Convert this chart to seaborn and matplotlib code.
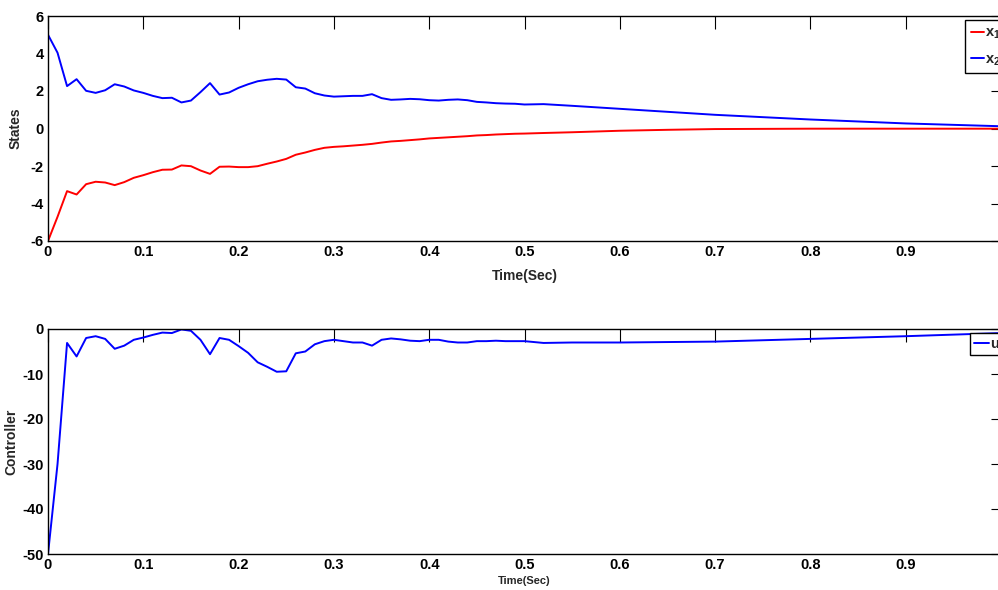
import matplotlib
matplotlib.use('Agg')
import matplotlib.pyplot as plt
from matplotlib import font_manager
import seaborn as sns

# time samples (sec)
t = [0.00, 0.01, 0.02, 0.03, 0.04, 0.05, 0.06, 0.07, 0.08, 0.09,
     0.10, 0.11, 0.12, 0.13, 0.14, 0.15, 0.16, 0.17, 0.18, 0.19,
     0.20, 0.21, 0.22, 0.23, 0.24, 0.25, 0.26, 0.27, 0.28, 0.29,
     0.30, 0.31, 0.32, 0.33, 0.34, 0.35, 0.36, 0.37, 0.38, 0.39,
     0.40, 0.41, 0.42, 0.43, 0.44, 0.45, 0.46, 0.47, 0.48, 0.49,
     0.50, 0.52, 0.55, 0.60, 0.65, 0.70, 0.80, 0.90, 1.00]

x1 = [-6.00, -4.71, -3.34, -3.52, -2.97, -2.84, -2.88, -3.02, -2.86, -2.63,
      -2.49, -2.33, -2.20, -2.19, -1.97, -2.01, -2.24, -2.42, -2.04, -2.03,
      -2.06, -2.06, -2.01, -1.88, -1.76, -1.62, -1.40, -1.28, -1.14, -1.03,
      -0.98, -0.95, -0.91, -0.87, -0.82, -0.75, -0.69, -0.66, -0.62, -0.58,
      -0.53, -0.50, -0.47, -0.44, -0.41, -0.37, -0.35, -0.32, -0.30, -0.28,
      -0.27, -0.24, -0.20, -0.12, -0.07, -0.03, -0.01, -0.01, -0.01]

x2 = [5.00, 4.04, 2.26, 2.63, 2.01, 1.90, 2.04, 2.36, 2.24, 2.03,
      1.90, 1.74, 1.62, 1.64, 1.39, 1.49, 1.94, 2.42, 1.81, 1.92,
      2.17, 2.36, 2.52, 2.60, 2.65, 2.61, 2.20, 2.13, 1.88, 1.76,
      1.70, 1.72, 1.74, 1.74, 1.83, 1.62, 1.53, 1.55, 1.58, 1.56,
      1.51, 1.49, 1.53, 1.55, 1.51, 1.42, 1.39, 1.35, 1.33, 1.32,
      1.28, 1.30, 1.21, 1.05, 0.89, 0.73, 0.48, 0.27, 0.12]

u = [-50.0, -30.0, -3.1, -6.1, -2.0, -1.6, -2.2, -4.4, -3.7, -2.4,
     -1.9, -1.3, -0.8, -0.9, -0.1, -0.4, -2.4, -5.6, -2.0, -2.4,
     -3.8, -5.3, -7.4, -8.4, -9.5, -9.4, -5.4, -5.0, -3.4, -2.7,
     -2.4, -2.7, -3.0, -3.0, -3.7, -2.4, -2.1, -2.3, -2.6, -2.7,
     -2.4, -2.4, -2.8, -3.0, -3.0, -2.7, -2.7, -2.6, -2.7, -2.7,
     -2.7, -3.1, -3.0, -3.0, -2.9, -2.8, -2.2, -1.6, -0.9]

xticks = [0, 0.1, 0.2, 0.3, 0.4, 0.5, 0.6, 0.7, 0.8, 0.9]
xtick_labels = ['0', '0.1', '0.2', '0.3', '0.4', '0.5', '0.6', '0.7', '0.8', '0.9']
yticks_states = [-6, -4, -2, 0, 2, 4, 6]
yticks_ctrl = [-50, -40, -30, -20, -10, 0]

sns.set_style('white')

# narrow bold sans if we have one, else the plain one
have = {f.name for f in font_manager.fontManager.ttflist}
fam = [f for f in ['Liberation Sans Narrow', 'Liberation Sans', 'DejaVu Sans'] if f in have]
plt.rcParams['font.family'] = fam
plt.rcParams['font.weight'] = 'bold'
plt.rcParams['axes.labelweight'] = 'bold'
plt.rcParams['axes.unicode_minus'] = False
plt.rcParams['mathtext.fontset'] = 'custom'
plt.rcParams['mathtext.rm'] = fam[0] + ':bold'
plt.rcParams['mathtext.bf'] = fam[0] + ':bold'

W, H = 998, 590
fig = plt.figure(figsize=(W / 100, H / 100), dpi=100)
# axes run a bit past the right edge of the picture, as in the original
ax1 = fig.add_axes([48 / W, 1 - 241 / H, 953 / W, 225 / H])
ax2 = fig.add_axes([48 / W, 1 - 554 / H, 953 / W, 225 / H])

sns.lineplot(x=t, y=x1, color='#ff0000', lw=1.4, label=r'$\mathbf{x_1}$', ax=ax1)
sns.lineplot(x=t, y=x2, color='#0000ff', lw=1.4, label=r'$\mathbf{x_2}$', ax=ax1)
sns.lineplot(x=t, y=u, color='#0000ff', lw=1.4, label='u', ax=ax2)

for ax, yt, ylim in [(ax1, yticks_states, (-6, 6)), (ax2, yticks_ctrl, (-50, 0))]:
    ax.set_xlim(0, 1)
    ax.set_ylim(*ylim)
    ax.set_xticks(xticks)
    ax.set_xticklabels(xtick_labels)
    ax.set_yticks(yt)
    ax.tick_params(axis='both', direction='in', top=True, right=True,
                   labelsize=10.5, colors='black', width=0.8)
    ax.tick_params(axis='x', length=9.5, pad=3)
    ax.tick_params(axis='y', length=7, pad=3)
    for s in ax.spines.values():
        s.set_color('black')
        s.set_linewidth(1.0)
    for lab in ax.get_xticklabels() + ax.get_yticklabels():
        lab.set_fontweight('bold')

ax1.set_xlabel('Time(Sec)', fontsize=10, fontweight='bold', labelpad=7)
ax1.set_ylabel('States', fontsize=10, fontweight='bold')
ax2.set_xlabel('Time(Sec)', fontsize=8, fontweight='bold', labelpad=3)
ax2.set_ylabel('Controller', fontsize=10, fontweight='bold')
ax1.yaxis.set_label_coords(-0.027, 0.5)
ax2.yaxis.set_label_coords(-0.031, 0.5)

leg1 = ax1.legend(loc='upper left', bbox_to_anchor=(0.962, 0.982), fontsize=10.5,
                  frameon=True, fancybox=False, edgecolor='black', framealpha=1,
                  handlelength=0.9, handletextpad=0.1, labelspacing=0.75,
                  borderpad=0.4, borderaxespad=0)
leg1.get_frame().set_linewidth(1.0)
leg2 = ax2.legend(loc='upper left', bbox_to_anchor=(0.9675, 0.984), fontsize=10.5,
                  frameon=True, fancybox=False, edgecolor='black', framealpha=1,
                  handlelength=1.0, handletextpad=0.1,
                  borderpad=0.3, borderaxespad=0)
leg2.get_frame().set_linewidth(1.0)

fig.savefig('out.png', dpi=100)
